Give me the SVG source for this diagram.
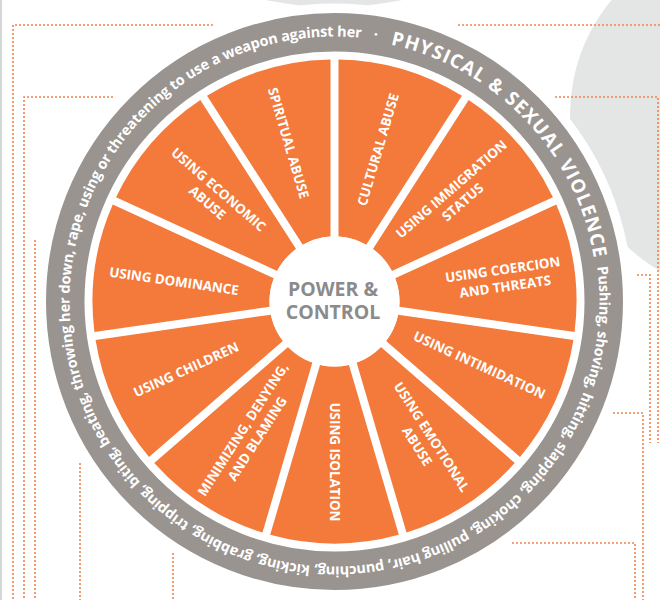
<svg xmlns="http://www.w3.org/2000/svg" width="660" height="600" viewBox="0 0 660 600">
<defs>
<style>
.dot{fill:none;stroke:#F0834A;stroke-width:1.6;stroke-dasharray:2 2}
.seg{fill:#F37A3B}
.lbl{font-family:"Open Sans","Liberation Sans",sans-serif;font-weight:700;font-size:13.4px;fill:#fff;text-anchor:middle}
.ring{font-family:"Open Sans","Liberation Sans",sans-serif;fill:#fff}
.hubt{font-family:"Open Sans","Liberation Sans",sans-serif;font-weight:700;font-size:19.5px;fill:#8B8B8B;text-anchor:middle}
</style>
<path id="sector" d="M4,-241.967 A242,242 0 0 1 127.452,-205.718 L31.710,-56.740 A65,65 0 0 0 4,-64.877 Z"/>
<path id="arcSmall" d="M597.233,266.911 A265,265 0 1 1 71.767,336.089 A265,265 0 1 1 597.233,266.911"/>
<path id="arcBig" d="M390.527,44.537 A263,263 0 1 1 278.473,558.463 A263,263 0 1 1 390.527,44.537"/>
</defs>
<g id="background">
<rect width="660" height="600" fill="#fff"/>
<circle cx="750" cy="115" r="180" fill="#E4E5E5"/>
<circle cx="334" cy="-330" r="337" fill="#E4E5E5"/>
<line x1="1" y1="0" x2="1" y2="600" stroke="#C9C9C9" stroke-width="1.5"/>
<polyline class="dot" points="213,25 13,25 13,600"/>
<polyline class="dot" points="113,97 24,97 24,600"/>
<line class="dot" x1="35" y1="240" x2="35" y2="600"/>
<line class="dot" x1="80" y1="463" x2="80" y2="600"/>
<line class="dot" x1="173" y1="553" x2="173" y2="600"/>
<line class="dot" x1="458" y1="25" x2="660" y2="25"/>
<polyline class="dot" points="555,97 658,97 658,443"/>
<polyline class="dot" points="637,275 650,275 650,443"/>
<polyline class="dot" points="613,413 643,413 643,600"/>
<polyline class="dot" points="512,543 635,543 635,600"/>
</g>
<g id="outer-ring">
<circle cx="334.5" cy="301.5" r="298" fill="#fff"/>
<circle cx="334.5" cy="301.5" r="269.25" fill="none" stroke="#9A9490" stroke-width="38.5"/>
<text class="ring" font-size="14.5" font-weight="700"><textPath href="#arcSmall" textLength="1310" lengthAdjust="spacing">Pushing, shoving, hitting, slapping, choking, pulling hair, punching, kicking, grabbing, tripping, biting, beating, throwing her down, rape, using or threatening to use a weapon against her</textPath></text>
<text class="ring" font-size="15" font-weight="700" text-anchor="middle" transform="translate(375.04 39.62) rotate(8.8)">·</text>
<text class="ring" font-size="19" font-weight="700"><textPath href="#arcBig" textLength="313" lengthAdjust="spacing">PHYSICAL &amp; SEXUAL VIOLENCE</textPath></text>
</g>
<g id="segments">
<g id="seg-cultural"><use href="#sector" class="seg" transform="translate(334.5 301.5)"/><text class="lbl" transform="translate(378 149.5) rotate(-73.636)" y="4.8">CULTURAL ABUSE</text></g>
<g id="seg-immigration"><use href="#sector" class="seg" transform="translate(334.5 301.5) rotate(32.7273)"/><text class="lbl" transform="translate(457 195.5) rotate(-40.909)"><tspan x="0" y="-3.8">USING IMMIGRATION</tspan><tspan x="0" y="13.4">STATUS</tspan></text></g>
<g id="seg-coercion"><use href="#sector" class="seg" transform="translate(334.5 301.5) rotate(65.4545)"/><text class="lbl" transform="translate(504 278) rotate(-8.182)"><tspan x="0" y="-3.8">USING COERCION</tspan><tspan x="0" y="13.4">AND THREATS</tspan></text></g>
<g id="seg-intimidation"><use href="#sector" class="seg" transform="translate(334.5 301.5) rotate(98.1818)"/><text class="lbl" transform="translate(479.5 365) rotate(24.545)" y="4.8">USING INTIMIDATION</text></g>
<g id="seg-emotional"><use href="#sector" class="seg" transform="translate(334.5 301.5) rotate(130.9091)"/><text class="lbl" transform="translate(424.5 441.5) rotate(57.273)"><tspan x="0" y="-3.8">USING EMOTIONAL</tspan><tspan x="0" y="13.4">ABUSE</tspan></text></g>
<g id="seg-isolation"><use href="#sector" class="seg" transform="translate(334.5 301.5) rotate(163.6364)"/><text class="lbl" transform="translate(334.5 462) rotate(90)" y="4.8">USING ISOLATION</text></g>
<g id="seg-minimizing"><use href="#sector" class="seg" transform="translate(334.5 301.5) rotate(196.3636)"/><text class="lbl" transform="translate(250 434) rotate(-57.273)"><tspan x="0" y="-3.8">MINIMIZING, DENYING,</tspan><tspan x="0" y="13.4">AND BLAMING</tspan></text></g>
<g id="seg-children"><use href="#sector" class="seg" transform="translate(334.5 301.5) rotate(229.0909)"/><text class="lbl" transform="translate(186 369.5) rotate(-24.545)" y="4.8">USING CHILDREN</text></g>
<g id="seg-dominance"><use href="#sector" class="seg" transform="translate(334.5 301.5) rotate(261.8182)"/><text class="lbl" transform="translate(174 281) rotate(8.182)" y="4.8">USING DOMINANCE</text></g>
<g id="seg-economic"><use href="#sector" class="seg" transform="translate(334.5 301.5) rotate(294.5455)"/><text class="lbl" transform="translate(213 196) rotate(40.909)"><tspan x="0" y="-3.8">USING ECONOMIC</tspan><tspan x="0" y="13.4">ABUSE</tspan></text></g>
<g id="seg-spiritual"><use href="#sector" class="seg" transform="translate(334.5 301.5) rotate(327.2727)"/><text class="lbl" transform="translate(288.5 143) rotate(73.636)" y="4.8">SPIRITUAL ABUSE</text></g>
</g>
<g id="hub">
<circle cx="334.5" cy="301.5" r="65" fill="#fff"/>
<text class="hubt" x="333" y="296">POWER &amp;</text>
<text class="hubt" x="333" y="318.5">CONTROL</text>
</g>
</svg>
